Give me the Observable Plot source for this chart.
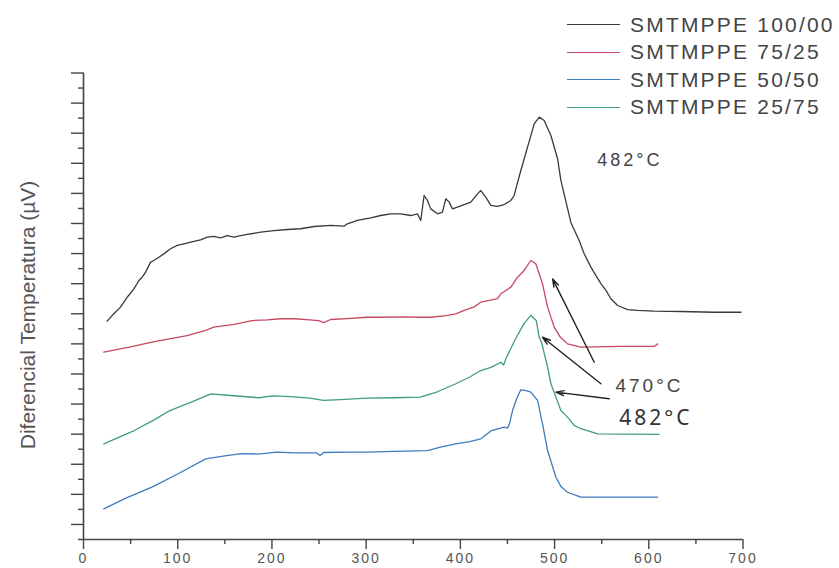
<!DOCTYPE html>
<html><head><meta charset="utf-8">
<script src="https://cdn.jsdelivr.net/npm/d3@7"></script>
<script src="https://cdn.jsdelivr.net/npm/@observablehq/plot@0.6"></script>
<style>
body{margin:0;background:#fff}
#wrap{position:relative;width:839px;height:568px;overflow:hidden;font-family:Arial,"Liberation Sans",sans-serif}
#wrap svg{position:absolute;left:0;top:0}
.legend{position:absolute;left:567px;top:11px}
.row{height:27.5px;display:flex;align-items:center;white-space:nowrap}
.sw{width:53px;height:0;border-top:1.5px solid}
.lab{margin-left:10px;font-size:21px;letter-spacing:2.2px;color:#444}
.ylab{position:absolute;left:28px;top:315px;transform:translate(-50%,-50%) rotate(-90deg);font-size:21px;color:#555;white-space:nowrap}
</style></head><body><div id="wrap"></div><script>
const seriesNames = ["SMTMPPE 100/00","SMTMPPE 75/25","SMTMPPE 50/50","SMTMPPE 25/75"];
const seriesColors = ["#3a3a3a","#c4495f","#3d7cbd","#3f9c7e"];
const yLabel = "Diferencial Temperatura (µV)";
const xTicks = [0,100,200,300,400,500,600,700];

const blackX = [25.1,32.2,39.3,46.4,53.5,58.8,62.3,65.9,71.2,74.7,80.0,85.3,92.4,99.5,106.6,113.7,124.3,131.4,138.4,145.5,152.6,159.7,166.8,173.9,188.0,202.2,216.3,230.5,244.7,262.4,276.5,280.1,290.7,304.9,315.5,326.1,336.7,347.4,354.4,358.0,361.5,365.1,368.6,375.7,381.0,384.5,388.1,391.6,396.9,404.0,411.1,418.2,421.7,427.0,432.3,439.4,446.5,453.6,457.1,458.9,464.2,471.3,478.4,483.7,489.0,496.1,503.2,506.7,517.3,526.1,531.4,538.6,543.9,549.2,554.5,559.8,566.9,577.6,588.2,605.8,634.2,669.5,697.9];
const blackY = [14.51,15.0,15.44,16.1,16.66,17.21,17.43,17.77,18.43,18.54,18.76,18.98,19.32,19.54,19.65,19.76,19.91,20.09,20.14,20.05,20.2,20.09,20.2,20.27,20.42,20.53,20.6,20.65,20.8,20.87,20.82,20.98,21.2,21.38,21.53,21.64,21.64,21.53,21.64,21.2,22.86,22.53,21.97,21.64,21.75,22.64,22.42,21.97,22.09,22.26,22.42,22.97,23.19,22.75,22.2,22.13,22.26,22.53,22.86,23.3,24.52,26.07,27.62,28.07,27.84,26.85,25.3,23.86,21.07,19.87,18.99,18.1,17.54,17.0,16.55,16.0,15.55,15.28,15.22,15.17,15.15,15.1,15.1];

const redX = [21.5,50.0,72.7,85.3,110.0,129.6,138.4,160.0,178.9,195.0,209.3,224.5,240.0,249.6,254.8,262.4,280.0,300.3,315.5,340.0,357.2,368.6,385.0,395.2,404.0,414.2,421.7,432.0,439.5,443.0,453.6,460.7,467.7,474.8,480.1,487.2,492.6,499.6,506.0,513.8,527.9,570.4,605.8,609.4];
const redY = [12.45,12.8,13.11,13.27,13.55,13.89,14.11,14.3,14.55,14.6,14.67,14.67,14.6,14.55,14.41,14.62,14.68,14.77,14.77,14.8,14.77,14.77,14.88,15.0,15.22,15.44,15.77,15.9,16.0,16.33,16.77,17.43,17.88,18.54,18.32,16.99,15.44,14.11,13.45,13.0,12.78,12.83,12.83,13.0];

const blueX = [21.5,45.0,72.7,100.0,129.6,150.0,167.5,185.0,205.4,225.0,247.5,251.0,254.9,280.0,300.3,330.0,364.8,380.0,395.2,410.0,421.7,433.1,446.5,450.0,452.1,455.4,460.0,464.2,470.0,474.8,481.9,487.2,492.6,501.4,507.0,513.8,527.9,570.0,609.4];
const blueY = [2.04,2.75,3.48,4.35,5.36,5.55,5.7,5.68,5.8,5.76,5.75,5.58,5.78,5.8,5.8,5.85,5.91,6.15,6.36,6.5,6.69,7.24,7.46,7.4,7.69,8.57,9.4,9.95,9.9,9.79,9.24,7.69,5.91,4.14,3.5,3.14,2.81,2.81,2.81];

const greenX = [21.5,53.8,75.0,91.7,115.0,135.3,156.2,186.5,200.0,219.9,240.0,254.8,273.0,300.3,330.0,357.2,375.0,395.2,410.0,421.7,433.1,443.0,446.0,448.3,457.7,467.3,474.8,480.6,483.7,486.2,492.6,496.1,501.4,506.7,513.8,520.8,527.9,545.7,610.8];
const greenY = [6.36,7.24,7.95,8.57,9.15,9.68,9.57,9.42,9.55,9.5,9.4,9.24,9.3,9.39,9.42,9.46,9.8,10.35,10.8,11.23,11.45,11.78,11.6,12.01,13.22,14.33,14.89,14.55,13.44,13.09,11.45,10.35,9.46,8.57,8.13,7.58,7.36,7.02,6.98];

const arrowX1 = [542.1,549.2,558.0];
const arrowY1 = [11.78,10.35,9.35];
const arrowX2 = [497.9,487.2,501.4];
const arrowY2 = [17.32,13.44,9.79];

const noteTop = {text:"482°C", x:580, y:25.19};
const note470 = {text:"470°C", x:600.7, y:10.23};
const note482 = {text:"482°C", x:607.6, y:8.04};

const xs = [blackX, redX, blueX, greenX];
const ys = [blackY, redY, blueY, greenY];
const rows = [];
seriesNames.forEach((s, k) => xs[k].forEach((x, i) => rows.push({s, x, y: ys[k][i]})));

const yMajor = d3.range(1, 32, 2);
const yMinor = d3.range(0, 32, 2);

const chart = Plot.plot({
  width: 839, height: 568,
  marginLeft: 83, marginRight: 96.5, marginTop: 72.5, marginBottom: 29,
  x: {domain: [0, 700]},
  y: {domain: [0, 31]},
  color: {domain: seriesNames, range: seriesColors},
  style: {background: "transparent", color: "#444", fontFamily: "Arial, 'Liberation Sans', sans-serif"},
  marks: [
    Plot.axisY({ticks: yMajor, tickSize: 12, tickFormat: () => "", label: null, strokeWidth: 1.4}),
    Plot.axisY({ticks: yMinor, tickSize: 5, tickFormat: () => "", label: null, strokeWidth: 1.4}),
    Plot.axisX({ticks: xTicks, tickSize: 10, tickPadding: 4, label: null, fontSize: 14, strokeWidth: 1.4, fill: "#555"}),
    Plot.axisX({ticks: d3.range(50, 701, 100), tickSize: 5, tickFormat: () => "", label: null, strokeWidth: 1.4}),
    Plot.ruleX([0], {stroke: "#444", strokeWidth: 1.6}),
    Plot.ruleY([0], {stroke: "#444", strokeWidth: 1.6}),
    Plot.line(rows, {x: "x", y: "y", z: "s", stroke: "s", strokeWidth: 1.3, curve: "linear"}),
    Plot.arrow(d3.range(arrowX1.length), {
      x1: i => arrowX1[i], y1: i => arrowY1[i], x2: i => arrowX2[i], y2: i => arrowY2[i],
      stroke: "#222", strokeWidth: 1.4, headLength: 9, headAngle: 35
    }),
    Plot.text([noteTop], {x: "x", y: "y", text: "text", fontSize: 18, fill: "#444"}),
    Plot.text([note470], {x: "x", y: "y", text: "text", fontSize: 19, fill: "#444"}),
    Plot.text([note482], {x: "x", y: "y", text: "text", fontSize: 21, fill: "#333", fontFamily: "'Noto Sans', sans-serif"})
  ]
});

const wrap = document.getElementById("wrap");
wrap.appendChild(chart);
chart.querySelectorAll("text").forEach(t => {
  if (/°C/.test(t.textContent) && t.getAttribute("font-size") != 21) t.style.letterSpacing = "3px";
});
chart.querySelectorAll("[aria-label='x-axis tick label'] text").forEach(t => t.style.letterSpacing = "2px");

const lab = document.createElement("div");
lab.className = "ylab"; lab.textContent = yLabel;
wrap.appendChild(lab);

const legend = document.createElement("div");
legend.className = "legend";
seriesNames.forEach((s, k) => {
  const r = document.createElement("div"); r.className = "row";
  const sw = document.createElement("div"); sw.className = "sw"; sw.style.borderTopColor = seriesColors[k];
  const t = document.createElement("span"); t.className = "lab"; t.textContent = s;
  r.appendChild(sw); r.appendChild(t); legend.appendChild(r);
});
wrap.appendChild(legend);
</script></body></html>
